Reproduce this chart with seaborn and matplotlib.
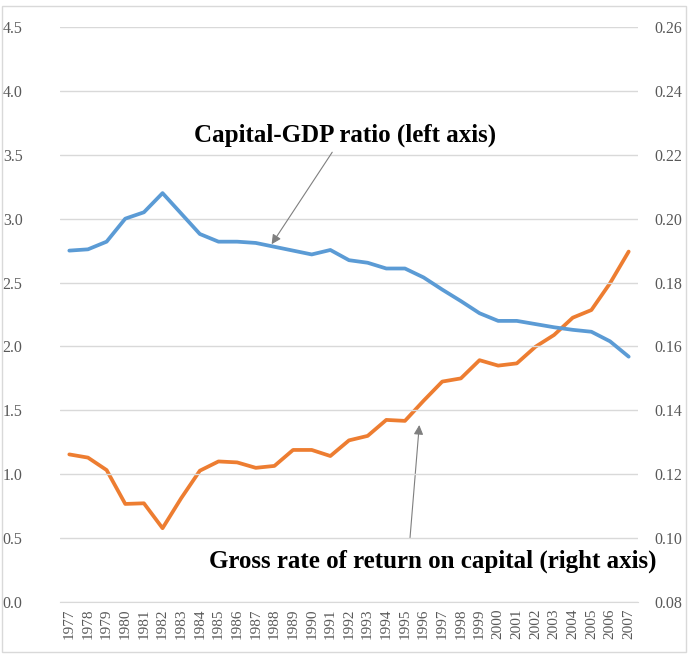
import numpy as np
import pandas as pd
import matplotlib
matplotlib.use('Agg')
import matplotlib.pyplot as plt
from matplotlib.patches import Rectangle
import seaborn as sns

# data
years = list(range(1977, 2008))
capital_gdp = [2.75, 2.76, 2.82, 3.00, 3.05, 3.20, 3.04, 2.88, 2.82, 2.82,
               2.81, 2.78, 2.75, 2.72, 2.755, 2.675, 2.655, 2.61, 2.61, 2.54,
               2.445, 2.355, 2.26, 2.20, 2.20, 2.175, 2.15, 2.13, 2.115, 2.04,
               1.92]
gross_return = [0.1262, 0.1252, 0.1213, 0.1107, 0.1109, 0.1031, 0.1125, 0.1211,
                0.1240, 0.1237, 0.1220, 0.1226, 0.1276, 0.1276, 0.1257, 0.1306,
                0.1320, 0.1370, 0.1367, 0.1430, 0.1490, 0.1500, 0.1557, 0.1540,
                0.1547, 0.1599, 0.1636, 0.1690, 0.1714, 0.1798, 0.1897]
left_ticks = [0.0, 0.5, 1.0, 1.5, 2.0, 2.5, 3.0, 3.5, 4.0, 4.5]
right_ticks = [0.08, 0.10, 0.12, 0.14, 0.16, 0.18, 0.20, 0.22, 0.24, 0.26]

df = pd.DataFrame({'Year': years, 'Capital': capital_gdp, 'Return': gross_return})

sns.set_style('white')
plt.rcParams['font.family'] = ['Liberation Serif', 'DejaVu Serif']

blue = '#5B9BD5'
orange = '#ED7D31'
grey_txt = '#595959'
grid_c = '#D9D9D9'

fig = plt.figure(figsize=(6.88, 6.54), dpi=100)
ax = fig.add_axes([60 / 688, 1 - 602 / 654, 578 / 688, 575 / 654])
ax2 = ax.twinx()

# gridlines for the left axis
for t in left_ticks:
    ax.axhline(t, color=grid_c, lw=1.0, zorder=0)

sns.lineplot(data=df, x='Year', y='Capital', ax=ax, color=blue, lw=2.7, zorder=3)
sns.lineplot(data=df, x='Year', y='Return', ax=ax2, color=orange, lw=2.7, zorder=3)

ax.set_xlim(1976.5, 2007.5)
ax.set_ylim(0, 4.5)
ax2.set_ylim(0.08, 0.26)
ax.set_yticks(left_ticks)
ax.set_yticklabels([f'{t:.1f}' for t in left_ticks])
ax2.set_yticks(right_ticks)
ax2.set_yticklabels([f'{t:.2f}' for t in right_ticks])
ax.set_xticks(years)
ax.set_xticklabels([str(y) for y in years], rotation=90)
ax.set_xticks([y + 0.5 for y in years[:-1]] + [1976.5], minor=True)

ax.set_xlabel('')
ax.set_ylabel('')
ax2.set_ylabel('')

for a in (ax, ax2):
    for s in a.spines.values():
        s.set_visible(False)
ax.spines['bottom'].set_visible(True)
ax.spines['bottom'].set_color(grid_c)

ax.tick_params(axis='x', which='major', length=0, pad=5, labelsize=11, labelcolor=grey_txt)
ax.tick_params(axis='x', which='minor', length=4, color=grid_c, direction='out')
ax.tick_params(axis='y', length=0, pad=27, labelsize=11.5, labelcolor=grey_txt)
ax2.tick_params(axis='y', length=0, pad=12, labelsize=11.5, labelcolor=grey_txt)
ax.set_zorder(ax2.get_zorder() + 1)
ax.patch.set_visible(False)

# annotations
ax.text(1991.8, 3.65, 'Capital-GDP ratio (left axis)', ha='center', va='center',
        fontsize=18, fontweight='bold', color='black')
ax.annotate('', xy=(1987.85, 2.80), xytext=(1991.1, 3.52),
            arrowprops=dict(arrowstyle='-|>', color='#7F7F7F', lw=0.8,
                            mutation_scale=14, shrinkA=0, shrinkB=0))
ax.text(1996.5, 0.32, 'Gross rate of return on capital (right axis)', ha='center',
        va='center', fontsize=18, fontweight='bold', color='black')
ax2.annotate('', xy=(1995.77, 0.1354), xytext=(1995.27, 0.0999),
             arrowprops=dict(arrowstyle='-|>', color='#7F7F7F', lw=0.8,
                             mutation_scale=14, shrinkA=0, shrinkB=0))

# light chart border
fig.patches.append(Rectangle((2 / 688, 2 / 654), 684 / 688, 646 / 654,
                             transform=fig.transFigure, fill=False,
                             edgecolor='#D9D9D9', lw=1.0))

fig.savefig('out.png', dpi=100)
